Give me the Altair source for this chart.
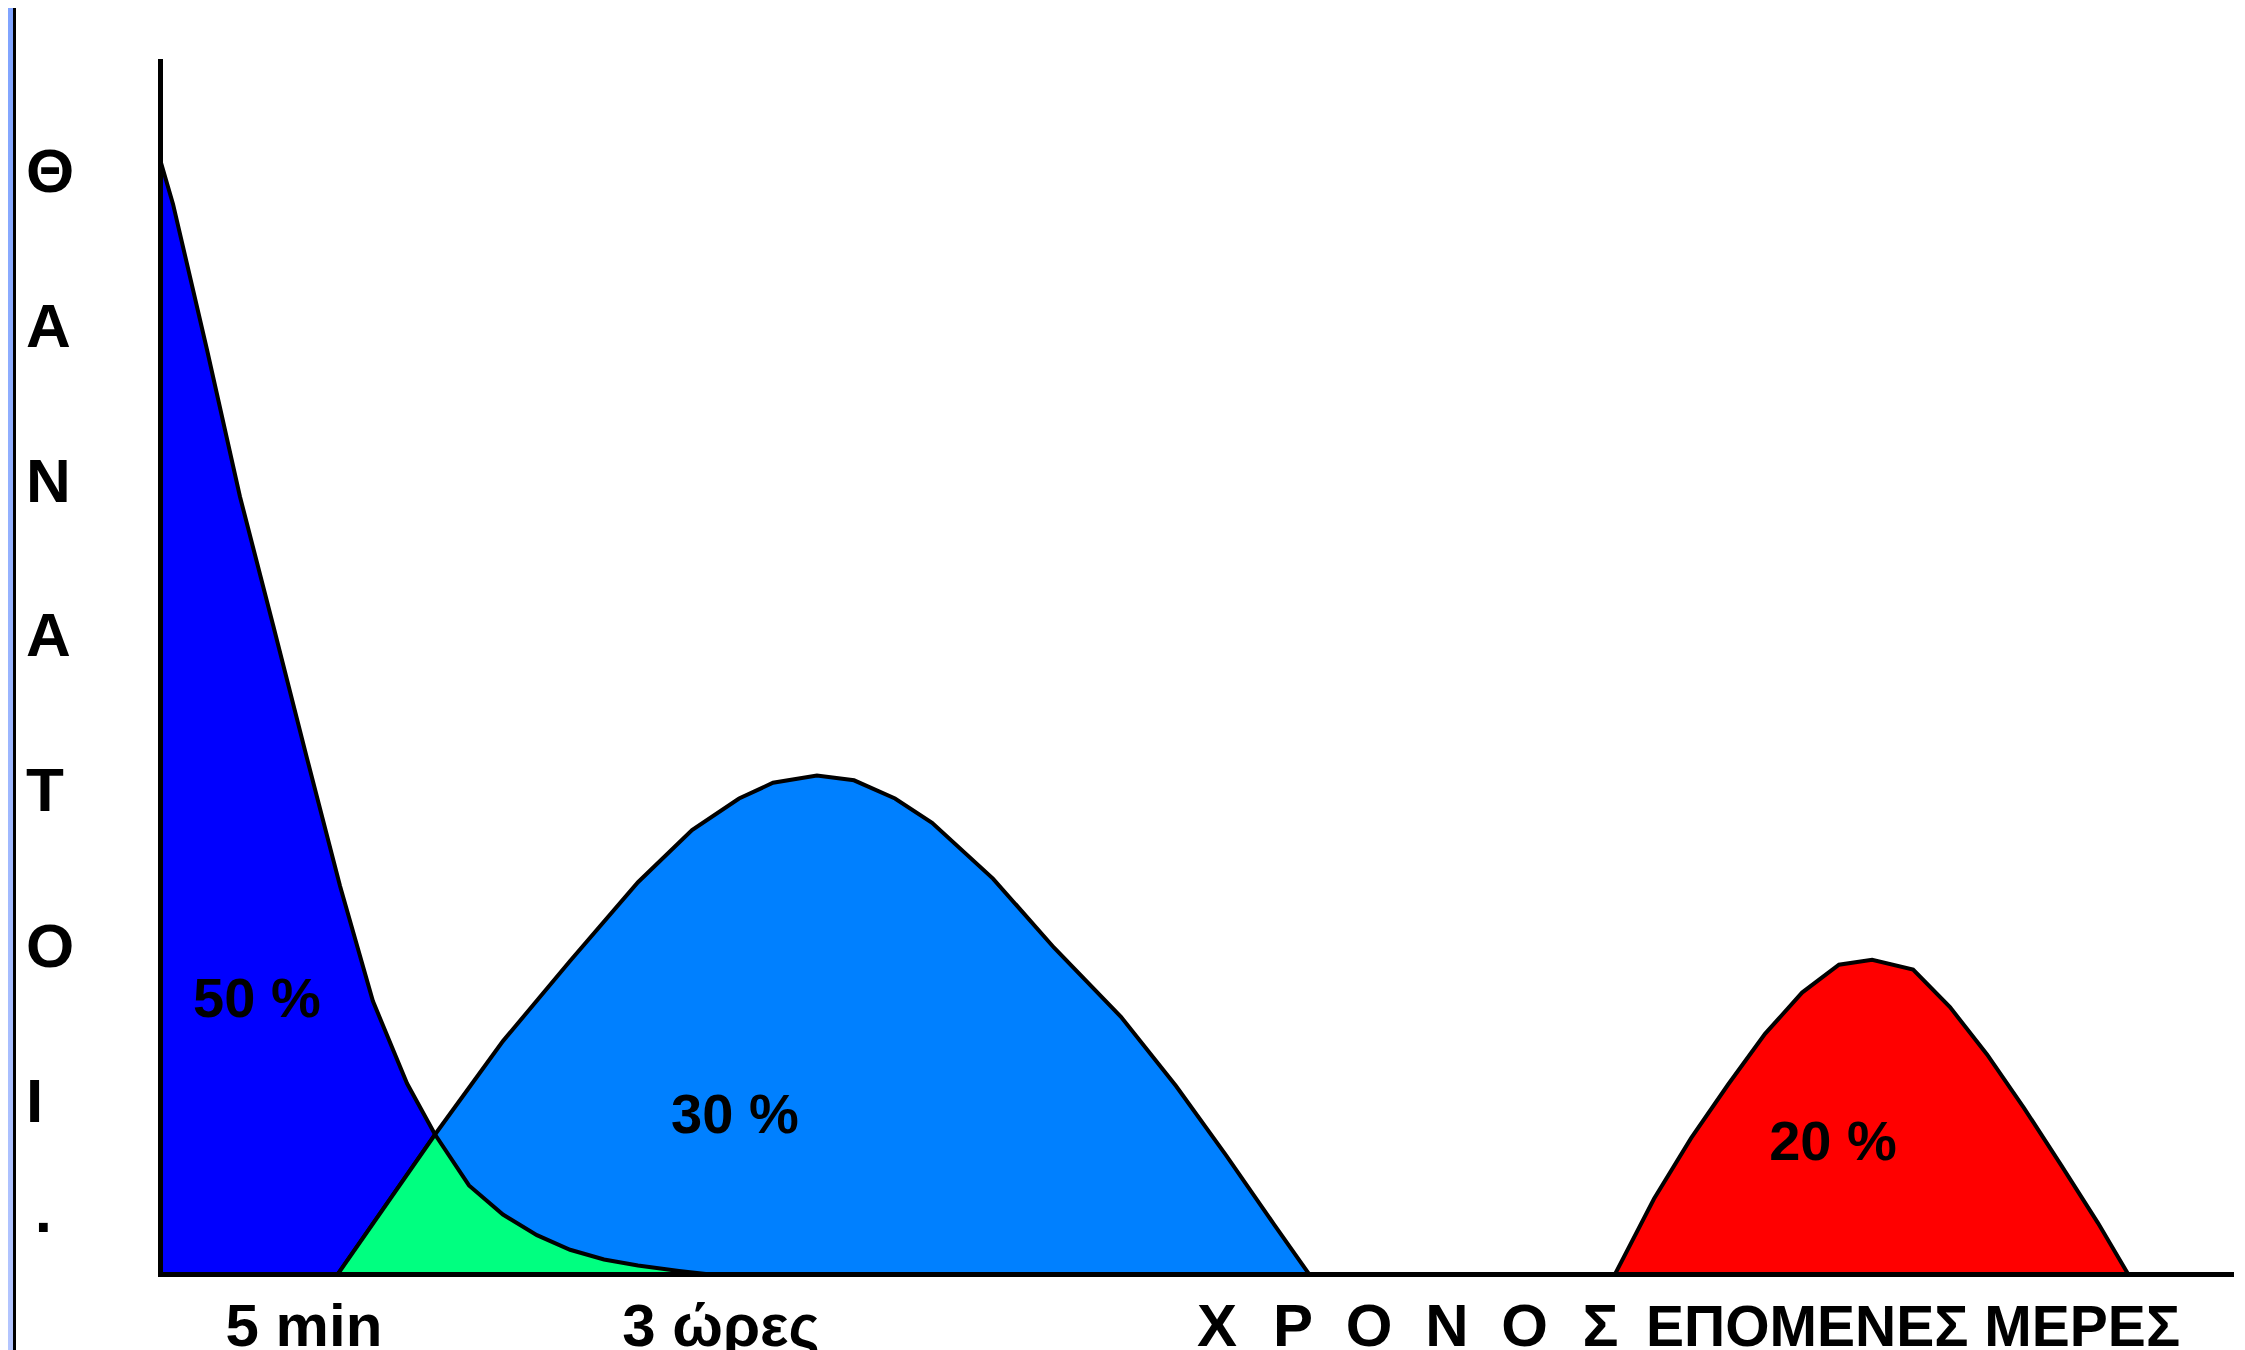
import altair as alt
import pandas as pd

# ---------------- data ----------------
# time axis (arbitrary units 0-100), deaths axis (arbitrary units 0-100)
A_X = [0, 0.63, 2.27, 3.86, 5.46, 7.10, 8.69, 10.28, 11.93, 13.28, 14.92, 16.56,
       18.20, 19.80, 21.44, 23.08, 25.06, 26.36]
A_Y = [91.9, 88.2, 76.2, 64.1, 53.5, 42.5, 32.0, 22.5, 15.7, 11.5, 7.3, 4.9,
       3.2, 2.0, 1.2, 0.7, 0.25, 0]

B_X = [8.59, 13.28, 16.56, 19.80, 23.08, 25.69, 27.96, 29.60, 31.72, 33.51, 35.49,
       37.28, 40.22, 43.17, 46.40, 49.06, 51.47, 53.79, 55.48]
B_Y = [0, 11.5, 19.2, 25.8, 32.3, 36.6, 39.2, 40.5, 41.1, 40.7, 39.2,
       37.2, 32.6, 26.9, 21.2, 15.5, 9.8, 4.1, 0]

G_X = [8.59, 13.28, 14.92, 16.56, 18.20, 19.80, 21.44, 23.08, 25.06, 26.36]
G_Y = [0, 11.5, 7.3, 4.9, 3.2, 2.0, 1.2, 0.7, 0.25, 0]

R_X = [70.26, 72.14, 73.93, 75.71, 77.50, 79.29, 81.07, 82.67, 84.65, 86.43,
       88.22, 90.00, 91.79, 93.58, 95.03]
R_Y = [0, 6.2, 11.2, 15.6, 19.8, 23.2, 25.5, 25.9, 25.1, 22.0,
       18.1, 13.7, 9.0, 4.2, 0]

PCT_TEXT = ["50 %", "30 %", "20 %"]
PCT_X = [4.68, 27.76, 80.78]
PCT_Y = [22.6, 13.0, 10.8]

Y_LETTERS = ["Θ", "Α", "Ν", "Α", "Τ", "Ο", "Ι", "."]
Y_LETTERS_X = [-6.47, -6.47, -6.47, -6.47, -6.47, -6.47, -6.47, -6.05]
Y_LETTERS_Y = [90.8, 78.0, 65.2, 52.5, 39.7, 26.9, 14.1, 5.0]

X_LABELS = ["5 min", "3 ώρες", "Χ", "Ρ", "Ο", "Ν", "Ο", "Σ", "ΕΠΟΜΕΝΕΣ ΜΕΡΕΣ"]
X_LABELS_X = [6.95, 27.09, 51.04, 54.71, 58.38, 62.14, 65.89, 69.56, 84.65]
X_LABELS_Y = [-5.94] * 9
X_LABELS_SIZE = [60, 60, 60, 60, 60, 60, 60, 60, 57]

# ---------------- chart ----------------
FONT = "Liberation Sans, Arial, sans-serif"

xs = alt.Scale(domain=[0, 100], nice=False, zero=False)
ys = alt.Scale(domain=[0, 100], nice=False, zero=False)

x_axis = alt.Axis(domain=True, domainColor="black", domainWidth=5, domainCap="square",
                  ticks=False, labels=False, grid=False, title=None, zindex=1)
y_axis = alt.Axis(domain=True, domainColor="black", domainWidth=5, domainCap="square",
                  ticks=False, labels=False, grid=False, title=None, zindex=1)


def enc(ch):
    return ch.encode(
        x=alt.X("t:Q", scale=xs, axis=x_axis),
        y=alt.Y("v:Q", scale=ys, axis=y_axis),
    )


def area(xv, yv, color):
    df = pd.DataFrame({"t": xv, "v": yv})
    return enc(alt.Chart(df).mark_area(fill=color, fillOpacity=1, stroke="black",
                                       strokeWidth=4, interpolate="linear"))


area_a = area(A_X, A_Y, "#0000FF")
area_b = area(B_X, B_Y, "#0080FF")
area_g = area(G_X, G_Y, "#00FF80")
area_r = area(R_X, R_Y, "#FF0000")

pct = enc(alt.Chart(pd.DataFrame({"t": PCT_X, "v": PCT_Y, "s": PCT_TEXT})).mark_text(
    font=FONT, fontSize=56, fontWeight="bold", color="black",
    align="center", baseline="middle")).encode(text="s:N")

yl = enc(alt.Chart(pd.DataFrame({"t": Y_LETTERS_X, "v": Y_LETTERS_Y, "s": Y_LETTERS})).mark_text(
    font=FONT, fontSize=62, fontWeight="bold", color="black",
    align="left", baseline="middle")).encode(text="s:N")

xl = enc(alt.Chart(pd.DataFrame({"t": X_LABELS_X, "v": X_LABELS_Y, "s": X_LABELS,
                                 "fs": X_LABELS_SIZE})).mark_text(
    font=FONT, fontWeight="bold", color="black",
    align="center", baseline="alphabetic")).encode(
    text="s:N", size=alt.Size("fs:Q", scale=None, legend=None))

# decorative frame strip on the left (light blue band + black edge)
frame_df = pd.DataFrame({"k": [0]})
band = alt.Chart(frame_df).mark_rect(
    fill=alt.Gradient(gradient="linear", x1=0, x2=0, y1=0, y2=1,
                      stops=[alt.GradientStop(color="#80a4ff", offset=0),
                             alt.GradientStop(color="#b4c6ff", offset=1)])
).encode(x=alt.value(-152), x2=alt.value(-147), y=alt.value(-53), y2=alt.value(1289))
edge = alt.Chart(frame_df).mark_rect(fill="black").encode(
    x=alt.value(-147), x2=alt.value(-144), y=alt.value(-53), y2=alt.value(1289))

chart = alt.layer(band, edge, area_a, area_b, area_g, area_r, pct, yl, xl).properties(
    width=2071, height=1213,
    padding={"left": 152, "top": 53, "right": 6, "bottom": 76},
    autosize=alt.AutoSizeParams(type="none"),
    background="white",
).configure_view(stroke=None)

chart.save("out.html", embed_options={"renderer": "svg", "actions": False})
